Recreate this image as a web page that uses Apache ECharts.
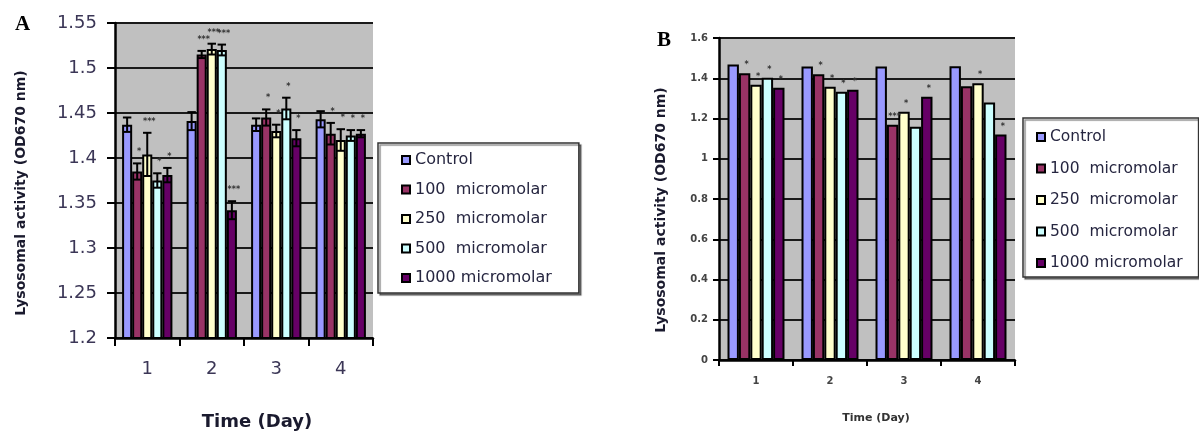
<!DOCTYPE html>
<html>
<head>
<meta charset="utf-8">
<script src="https://cdn.jsdelivr.net/npm/echarts@6/dist/echarts.min.js"></script>
<style>
	html, body { margin: 0; padding: 0; background: #fff; }
	#chart { width: 1199px; height: 436px; }
</style>
</head>
<body>
<div id="chart"></div>
<script>
const days = ['1', '2', '3', '4']
const groups = ['Control', '100  micromolar', '250  micromolar', '500  micromolar', '1000 micromolar']

// panel A (zoomed axis 1.2 - 1.55, with error bars)
const controlA = [1.437, 1.441, 1.437, 1.443]
const m100A = [1.385, 1.515, 1.445, 1.427]
const m250A = [1.404, 1.521, 1.430, 1.420]
const m500A = [1.375, 1.520, 1.455, 1.425]
const m1000A = [1.381, 1.342, 1.422, 1.427]

const errControlA = [0.008, 0.010, 0.007, 0.009]
const err100A = [0.009, 0.004, 0.009, 0.012]
const err250A = [0.024, 0.006, 0.007, 0.012]
const err500A = [0.008, 0.006, 0.012, 0.006]
const err1000A = [0.008, 0.010, 0.009, 0.004]

const starsControlA = ['', '', '', '']
const stars100A = ['*', '***', '*', '*']
const stars250A = ['***', '***', '*', '*']
const stars500A = ['*', '***', '*', '*']
const stars1000A = ['*', '***', '*', '*']

// panel B (full axis 0 - 1.6)
const controlB = [1.468, 1.458, 1.458, 1.460]
const m100B = [1.425, 1.420, 1.169, 1.360]
const m250B = [1.368, 1.358, 1.234, 1.375]
const m500B = [1.403, 1.333, 1.159, 1.279]
const m1000B = [1.353, 1.343, 1.308, 1.120]

const starsControlB = ['', '', '', '']
const stars100B = ['*', '*', '***', '']
const stars250B = ['*', '*', '*', '*']
const stars500B = ['*', '*', '', '']
const stars1000B = ['*', '*', '*', '*']

const colors = ['#9999ff', '#993366', '#ffffcc', '#ccffff', '#660066']
const gapA = 0.22
const gapB = 0.23

const valuesA = [controlA, m100A, m250A, m500A, m1000A]
const errorsA = [errControlA, err100A, err250A, err500A, err1000A]
const starsA = [starsControlA, stars100A, stars250A, stars500A, stars1000A]
const valuesB = [controlB, m100B, m250B, m500B, m1000B]
const starsB = [starsControlB, stars100B, stars250B, stars500B, stars1000B]

const barSeries = (vals, axis, gap) =>
	vals.map((row, i) => ({
		name: groups[i],
		type: 'bar',
		xAxisIndex: axis,
		yAxisIndex: axis,
		data: row,
		barGap: '0%',
		barCategoryGap: gap * 100 + '%',
		itemStyle: { color: colors[i], borderColor: '#000', borderWidth: 2 }
	}))

const markItems = (vals, errs, stars) => {
	const items = []
	vals.forEach((row, s) =>
		row.forEach((v, d) => {
			items.push({ value: [d, s, v, errs ? errs[s][d] : 0], stars: stars[s][d] })
		})
	)
	return items
}

const itemsA = markItems(valuesA, errorsA, starsA)
const itemsB = markItems(valuesB, null, starsB)

// error bars and significance stars, placed on the bar of each group
const markRender = (items, gap, lift) => (params, api) => {
	const d = api.value(0)
	const s = api.value(1)
	const v = api.value(2)
	const e = api.value(3)
	const barW = (api.size([1, 0])[0] * (1 - gap)) / groups.length
	const x = api.coord([d, v])[0] + (s - (groups.length - 1) / 2) * barW
	const top = api.coord([d, v + e])[1]
	const bottom = api.coord([d, v - e])[1]
	const cap = barW * 0.42
	const ls = { stroke: '#000', lineWidth: 2 }
	const children = []
	if (e > 0) {
		children.push({ type: 'line', shape: { x1: x, y1: top, x2: x, y2: bottom }, style: ls })
		children.push({ type: 'line', shape: { x1: x - cap, y1: top, x2: x + cap, y2: top }, style: ls })
		children.push({ type: 'line', shape: { x1: x - cap, y1: bottom, x2: x + cap, y2: bottom }, style: ls })
	}
	const st = items[params.dataIndex].stars
	if (st) {
		children.push({
			type: 'text',
			x: x + 2,
			y: top - lift,
			style: { text: st, fill: '#333', font: 'bold 8px "DejaVu Sans"', align: 'center', verticalAlign: 'bottom' }
		})
	}
	return { type: 'group', children }
}

const labelA = { color: '#3b3656', fontSize: 18, fontFamily: 'DejaVu Sans' }
const labelB = { color: '#444', fontSize: 10, fontWeight: 'bold', fontFamily: 'DejaVu Sans' }
const axisLine = { show: true, lineStyle: { color: '#000', width: 2.5 } }
const axisTick = { show: true, length: 8, lineStyle: { color: '#000', width: 2 } }
const splitLine = { show: true, lineStyle: { color: '#1a1a1a', width: 2 } }

const legendBase = {
	orient: 'vertical',
	data: groups,
	icon: 'rect',
	itemWidth: 8,
	itemHeight: 8,
	backgroundColor: '#fff',
	borderColor: '#333',
	borderWidth: 1.5,
	shadowColor: 'rgba(0,0,0,0.45)',
	shadowOffsetX: 2,
	shadowOffsetY: 2,
	shadowBlur: 1,
	selectedMode: false
}

const chart = echarts.init(document.getElementById('chart'))

chart.setOption({
	animation: false,
	title: [
		{ text: 'A', left: 10, top: 9, textStyle: { fontFamily: 'Liberation Serif', fontSize: 21, fontWeight: 'bold', color: '#000' } },
		{ text: 'B', left: 652, top: 25, textStyle: { fontFamily: 'Liberation Serif', fontSize: 21, fontWeight: 'bold', color: '#000' } }
	],
	legend: [
		{
			...legendBase,
			left: 378,
			top: 143,
			padding: [9, 27, 7, 23],
			itemGap: 13.5,
			textStyle: { color: '#262640', fontSize: 16, lineHeight: 16, fontFamily: 'DejaVu Sans' }
		},
		{
			...legendBase,
			left: 1023,
			top: 118,
			padding: [11, 16, 6, 13],
			itemGap: 15.5,
			textStyle: { color: '#262640', fontSize: 15.5, lineHeight: 16, fontFamily: 'DejaVu Sans' }
		}
	],
	grid: [
		{ left: 115, top: 23, width: 258, height: 321, show: true, backgroundColor: '#c0c0c0', borderWidth: 0 },
		{ left: 719, top: 38, width: 296, height: 322, show: true, backgroundColor: '#c0c0c0', borderWidth: 0 }
	],
	xAxis: [
		{
			gridIndex: 0,
			type: 'category',
			data: days,
			axisLine,
			axisTick,
			axisLabel: { ...labelA, margin: 22 },
			name: 'Time (Day)',
			nameLocation: 'middle',
			nameGap: 75,
			nameTextStyle: { color: '#1a1a2e', fontSize: 18, fontWeight: 'bold', fontFamily: 'DejaVu Sans', padding: [0, 0, 0, 26] }
		},
		{
			gridIndex: 1,
			type: 'category',
			data: days,
			axisLine,
			axisTick: { ...axisTick, length: 6 },
			axisLabel: { ...labelB, margin: 16 },
			name: 'Time (Day)',
			nameLocation: 'middle',
			nameGap: 53,
			nameTextStyle: { color: '#333', fontSize: 11, fontWeight: 'bold', fontFamily: 'DejaVu Sans', padding: [0, 0, 0, 18] }
		}
	],
	yAxis: [
		{
			gridIndex: 0,
			type: 'value',
			min: 1.2,
			max: 1.55,
			interval: 0.05,
			axisLine,
			axisTick,
			splitLine,
			axisLabel: { ...labelA, margin: 18, formatter: (v) => String(+v.toFixed(2)) },
			name: 'Lysosomal activity (OD670 nm)',
			nameLocation: 'middle',
			nameGap: 87,
			nameTextStyle: { color: '#1a1a2e', fontSize: 14, fontWeight: 'bold', fontFamily: 'DejaVu Sans', padding: [0, 25, 0, 0] }
		},
		{
			gridIndex: 1,
			type: 'value',
			min: 0,
			max: 1.6,
			interval: 0.2,
			axisLine,
			axisTick: { ...axisTick, length: 6 },
			splitLine,
			axisLabel: { ...labelB, margin: 11, formatter: (v) => String(+v.toFixed(1)) },
			name: 'Lysosomal activity (OD670 nm)',
			nameLocation: 'middle',
			nameGap: 51,
			nameTextStyle: { color: '#1a1a2e', fontSize: 14, fontWeight: 'bold', fontFamily: 'DejaVu Sans', padding: [0, 22, 0, 0] }
		}
	],
	series: [
		...barSeries(valuesA, 0, gapA),
		...barSeries(valuesB, 1, gapB),
		{
			name: 'marksA',
			type: 'custom',
			xAxisIndex: 0,
			yAxisIndex: 0,
			z: 5,
			silent: true,
			encode: { x: 0, y: 2 },
			data: itemsA,
			renderItem: markRender(itemsA, gapA, 7)
		},
		{
			name: 'marksB',
			type: 'custom',
			xAxisIndex: 1,
			yAxisIndex: 1,
			z: 5,
			silent: true,
			encode: { x: 0, y: 2 },
			data: itemsB,
			renderItem: markRender(itemsB, gapB, 4)
		}
	]
})
</script>
</body>
</html>
